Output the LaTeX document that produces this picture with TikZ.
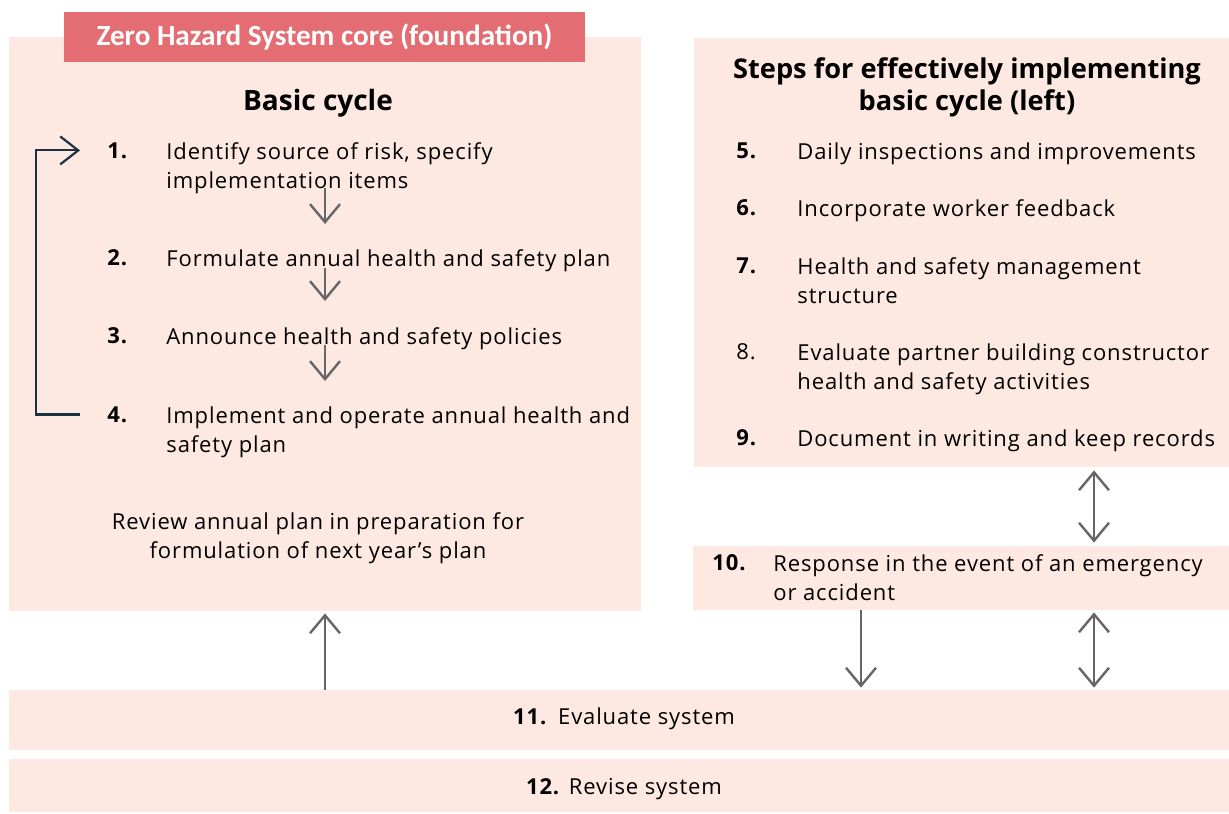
\documentclass[tikz,border=0pt]{standalone}
\usepackage{fontspec}
\setmainfont{Open Sans}[LetterSpace=4]
\newfontfamily\headfont{Open Sans}
\newfontfamily\tabfont{Carlito}
\usepackage{xcolor}
\usetikzlibrary{arrows.meta, positioning, fit}
\definecolor{panelpink}{HTML}{FDE8E2}
\definecolor{tabred}{HTML}{E36D72}
\definecolor{arrowgrey}{HTML}{666666}
\definecolor{loopnavy}{HTML}{1B3243}
\newcommand{\bodyfont}{\fontsize{11}{14.5}\selectfont}
\tikzset{
  panel/.style={fill=panelpink, draw=none, inner sep=0pt},
  tab/.style={fill=tabred, draw=none, inner sep=0pt},
  tabtext/.style={inner sep=0pt, text=white, font=\tabfont\bfseries\fontsize{14.6}{16}\selectfont},
  heading/.style={inner sep=0pt, align=center, font=\headfont\bfseries\fontsize{14}{16}\selectfont},
  num/.style={anchor=north west, inner sep=0pt, font=\bodyfont\bfseries},
  item/.style={anchor=north west, inner sep=0pt, align=left, font=\bodyfont},
  flow/.style={-{Straight Barb[length=9pt, width=15pt]}, line width=1.2pt, arrowgrey},
  twoway/.style={{Straight Barb[length=9pt, width=15pt]}-{Straight Barb[length=9pt, width=15pt]}, line width=1.2pt, arrowgrey},
  loopback/.style={-{Straight Barb[length=9pt, width=14pt]}, line width=1.1pt, loopnavy}
}

\begin{document}
\begin{tikzpicture}[x=0.5pt, y=-0.5pt]
  \useasboundingbox (0,0) rectangle (1229,813);
  % panels
  \node[panel, fit={(9,37) (641,611)}] (core) {};
  \node[panel, fit={(694,38) (1229,467)}] (steps) {};
  \node[panel, fit={(693,546) (1229,610)}] (resp) {};
  \node[panel, fit={(9,690) (1229,750)}] (eval) {};
  \node[panel, fit={(9,759) (1229,812)}] (revise) {};
  \node[tab, fit={(64,12) (585,62)}] (tab) {};
  \node[tabtext] (tabtitle) at (tab.center) {Zero Hazard System core (foundation)};

  % basic cycle
  \node[heading] (basic) at (318,103) {Basic cycle};
  \node[num] (n1) at (107,142) {1.};
  \node[item] (t1) at (166,142) {Identify source of risk, specify\\implementation items};
  \node[num] (n2) at (107,249) {2.};
  \node[item] (t2) at (166,249) {Formulate annual health and safety plan};
  \node[num] (n3) at (107,327) {3.};
  \node[item] (t3) at (166,327) {Announce health and safety policies};
  \node[num] (n4) at (107,406) {4.};
  \node[item] (t4) at (166,406) {Implement and operate annual health and\\safety plan};
  \node[item, align=center, anchor=north] (review) at (318,512) {Review annual plan in preparation for\\formulation of next year’s plan};

  \coordinate (ax) at (325,0);
  \draw[flow, shorten <=-3pt, shorten >=12.5pt] (t1.south -| ax) -- (t2.north -| ax);
  \draw[flow, shorten <=-2pt, shorten >=13pt] (t2.south -| ax) -- (t3.north -| ax);
  \draw[flow, shorten <=-2.5pt, shorten >=12.5pt] (t3.south -| ax) -- (t4.north -| ax);
  \draw[loopback] ([xshift=-13.5pt]n4.west) -- ++(-44,0) |- ([xshift=-13.5pt]n1.west);

  % steps for the basic cycle
  \node[heading, anchor=north, font=\headfont\bfseries\fontsize{13.6}{16}\selectfont] (stepstitle) at (967,57) {Steps for effectively implementing\\basic cycle (left)};
  \node[num] (n5) at (736,142) {5.};
  \node[item] (t5) at (797,142) {Daily inspections and improvements};
  \node[num] (n6) at (736,199) {6.};
  \node[item] (t6) at (797,199) {Incorporate worker feedback};
  \node[num] (n7) at (736,257) {7.};
  \node[item] (t7) at (797,257) {Health and safety management\\structure};
  \node[num, font=\bodyfont] (n8) at (736,343) {8.};
  \node[item] (t8) at (797,343) {Evaluate partner building constructor\\health and safety activities};
  \node[num] (n9) at (736,429) {9.};
  \node[item] (t9) at (797,429) {Document in writing and keep records};

  \node[num] (n10) at (712,554) {10.};
  \node[item] (t10) at (773,554) {Response in the event of an emergency\\or accident};

  \node[item, anchor=center] (evaltxt) at (624,719) {\textbf{11.}\enspace Evaluate system};
  \node[item, anchor=center] (revisetxt) at (624,789) {\textbf{12.} Revise system};

  \coordinate (bx) at (1094,0);
  \coordinate (cx) at (861,0);
  \draw[twoway, shorten <=1.5pt, shorten >=1.5pt] (steps.south -| bx) -- (resp.north -| bx);
  \draw[twoway, shorten <=1pt, shorten >=1pt] (resp.south -| bx) -- (eval.north -| bx);
  \draw[flow, shorten >=1pt] (resp.south -| cx) -- (eval.north -| cx);
  \draw[flow, shorten >=1pt] (eval.north -| ax) -- (core.south -| ax);
\end{tikzpicture}
\end{document}
